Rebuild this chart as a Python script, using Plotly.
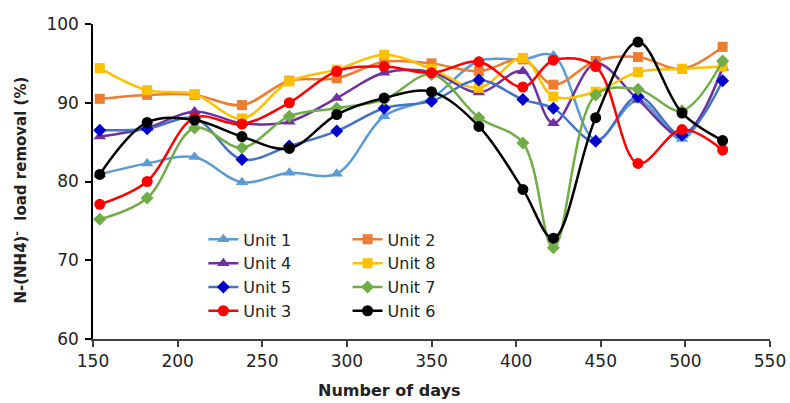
import plotly.graph_objects as go

days = [154, 182, 210, 238, 266, 294, 322, 350, 378, 404, 422, 447, 472, 498, 522]

unit1 = [80.9, 82.3, 83.1, 79.9, 81.1, 81.0, 88.3, 90.6, 95.3, 95.5, 96.0, 85.3, 90.3, 85.4, 94.6]
unit2 = [90.5, 91.0, 91.0, 89.7, 92.8, 93.1, 95.2, 95.0, 94.0, 95.5, 92.3, 95.3, 95.8, 94.3, 97.1]
unit4 = [85.7, 86.8, 88.9, 87.4, 87.6, 90.6, 93.8, 93.9, 91.3, 94.0, 87.4, 95.0, 90.4, 85.9, 94.4]
unit8 = [94.4, 91.6, 91.1, 88.0, 92.7, 94.2, 96.1, 94.3, 91.9, 95.7, 90.8, 91.4, 93.9, 94.3, 94.6]
unit5 = [86.5, 86.7, 88.0, 82.8, 84.5, 86.4, 89.3, 90.2, 92.9, 90.4, 89.3, 85.1, 90.8, 85.9, 92.8]
unit7 = [75.2, 77.9, 86.8, 84.3, 88.3, 89.3, 90.4, 93.6, 88.1, 84.9, 71.6, 91.0, 91.7, 89.0, 95.3]
unit3 = [77.1, 80.0, 88.1, 87.3, 90.0, 94.0, 94.6, 93.8, 95.2, 92.0, 95.4, 94.6, 82.3, 86.6, 84.0]
unit6 = [80.9, 87.5, 87.8, 85.7, 84.2, 88.5, 90.6, 91.4, 87.0, 79.0, 72.8, 88.1, 97.7, 88.7, 85.2]

x_ticks = [150, 200, 250, 300, 350, 400, 450, 500, 550]
y_ticks = [60, 70, 80, 90, 100]

x_title = "Number of days"
y_title = "N-(NH4)<sup>-</sup>  load removal (%)"

# (name, values, line colour, marker colour, symbol, size, legend column)
series = [
    ("Unit 1", unit1, "#5B9BD5", "#5B9BD5", "triangle-up", 11, "legend"),
    ("Unit 2", unit2, "#ED7D31", "#ED7D31", "square", 10, "legend2"),
    ("Unit 4", unit4, "#7030A0", "#7030A0", "triangle-up", 11, "legend"),
    ("Unit 8", unit8, "#FFC000", "#FFC000", "square", 10, "legend2"),
    ("Unit 5", unit5, "#4472C4", "#0000CC", "diamond", 10, "legend"),
    ("Unit 7", unit7, "#70AD47", "#70AD47", "diamond", 10, "legend2"),
    ("Unit 3", unit3, "#FF0000", "#FF0000", "circle", 11, "legend"),
    ("Unit 6", unit6, "#000000", "#000000", "circle", 11, "legend2"),
]

fig = go.Figure()
for name, vals, lc, mc, sym, sz, lg in series:
    fig.add_trace(go.Scatter(
        x=days, y=vals, name=name, mode="lines+markers", legend=lg,
        line=dict(color=lc, width=2.5, shape="spline", smoothing=1.0),
        marker=dict(color=mc, symbol=sym, size=sz, line=dict(width=0)),
    ))

legend_common = dict(
    orientation="v", yanchor="top", xanchor="left",
    font=dict(size=16, family="DejaVu Sans", color="#222222"),
    bgcolor="rgba(255,255,255,0)", tracegroupgap=0,
)

fig.update_layout(
    width=790, height=403,
    margin=dict(l=93, r=20, t=24, b=64),
    paper_bgcolor="white", plot_bgcolor="white",
    font=dict(family="DejaVu Sans", color="#222222"),
    showlegend=True,
    legend=dict(x=0.163, y=0.37, **legend_common),
    legend2=dict(x=0.376, y=0.37, **legend_common),
    xaxis=dict(
        range=[150, 550], tickvals=x_ticks, showgrid=False, zeroline=False,
        automargin=False,
        showline=True, linecolor="#404040", linewidth=1.5,
        ticks="outside", ticklen=6, tickcolor="#404040", tickwidth=1.5,
        tickfont=dict(size=17, family="DejaVu Sans", color="#222222"),
    ),
    yaxis=dict(
        range=[60, 100], tickvals=y_ticks, showgrid=False, zeroline=False,
        automargin=False,
        showline=True, linecolor="#000000", linewidth=1.5,
        ticks="outside", ticklen=6, tickcolor="#000000", tickwidth=1.5,
        ticklabelstandoff=3,
        tickfont=dict(size=17, family="DejaVu Sans", color="#222222"),
    ),
    annotations=[
        dict(text="<b>" + x_title + "</b>", xref="paper", yref="paper",
             x=0.437, y=-0.165, xanchor="center", yanchor="middle",
             showarrow=False,
             font=dict(size=16, family="DejaVu Sans", color="#222222")),
        dict(text="<b>" + y_title + "</b>", xref="paper", yref="paper",
             x=-0.108, y=0.474, xanchor="center", yanchor="middle",
             textangle=-90, showarrow=False,
             font=dict(size=15, family="DejaVu Sans", color="#222222")),
    ],
)

fig.write_html("out.html")
